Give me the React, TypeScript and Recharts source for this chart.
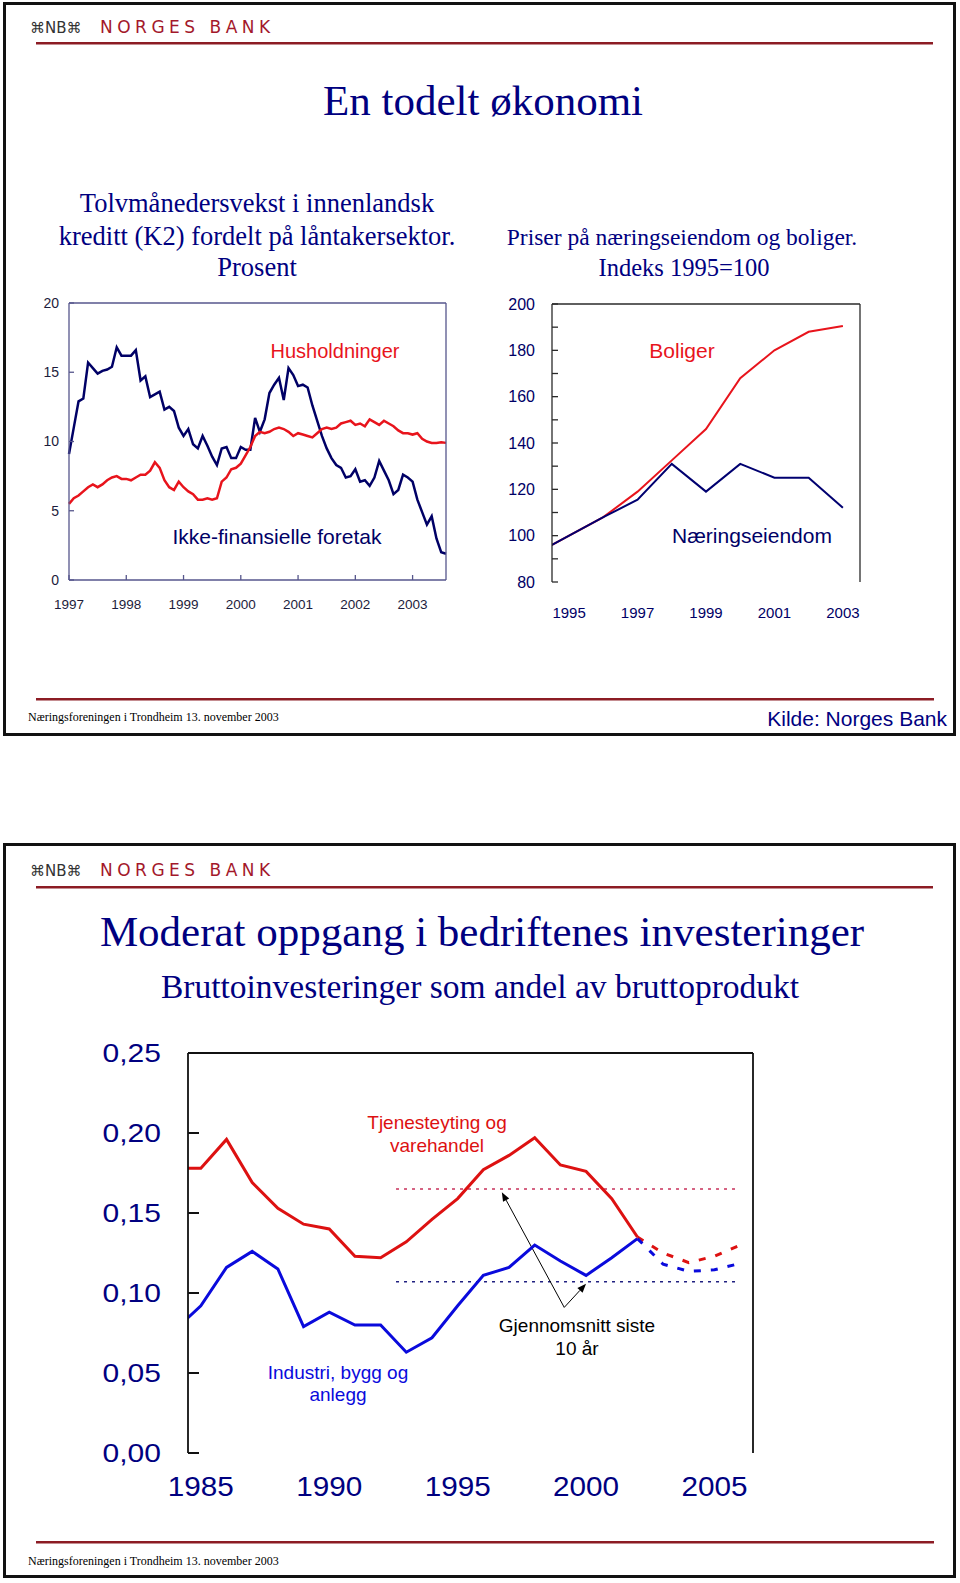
import React from "react";
import { LineChart, Line, XAxis, YAxis, ReferenceLine } from "recharts";

// --- Slide 1, left: tolvmånedersvekst i kreditt (K2), månedlig jan 1997 - aug 2003
const CREDIT_YEARS = ["1997", "1998", "1999", "2000", "2001", "2002", "2003"];
const CREDIT_TICKS = [0, 12, 24, 36, 48, 60, 72];
const HOUSEHOLDS = [
  5.5, 5.9, 6.1, 6.4, 6.7, 6.9, 6.7, 6.9, 7.2, 7.4,
  7.5, 7.3, 7.3, 7.2, 7.4, 7.6, 7.6, 7.9, 8.5, 8.1,
  7.2, 6.7, 6.5, 7.1, 6.7, 6.4, 6.2, 5.8, 5.8, 5.9,
  5.8, 5.9, 7.1, 7.4, 8.0, 8.1, 8.4, 9.0, 9.6, 10.4,
  10.7, 10.6, 10.7, 10.9, 11.0, 10.9, 10.7, 10.4, 10.6, 10.5,
  10.4, 10.3, 10.6, 10.9, 11.0, 10.9, 11.0, 11.3, 11.4, 11.5,
  11.2, 11.3, 11.1, 11.6, 11.4, 11.2, 11.5, 11.3, 11.1, 10.8,
  10.6, 10.6, 10.5, 10.6, 10.2, 10.0, 9.9, 9.9, 9.95, 9.9,
];
const FIRMS = [
  9.1, 11.0, 12.9, 13.1, 15.7, 15.3, 14.9, 15.1, 15.2, 15.4,
  16.8, 16.2, 16.2, 16.2, 16.6, 14.4, 14.7, 13.2, 13.4, 13.6,
  12.3, 12.5, 12.2, 11.0, 10.4, 10.9, 9.8, 9.5, 10.4, 9.7,
  8.9, 8.3, 9.5, 9.6, 8.8, 8.8, 9.6, 9.4, 9.4, 11.7,
  10.7, 11.6, 13.5, 14.1, 14.6, 13.0, 15.3, 14.8, 14.0, 14.1,
  13.9, 12.6, 11.5, 10.4, 9.5, 8.8, 8.3, 8.1, 7.4, 7.5,
  8.0, 7.1, 7.2, 6.8, 7.4, 8.6, 7.9, 7.2, 6.2, 6.5,
  7.6, 7.4, 7.1, 5.8, 4.9, 4.0, 4.6, 3.0, 2.0, 1.9,
];
const CREDIT_Y_TICKS = [0, 5, 10, 15, 20];

// --- Slide 1, right: priser, indeks 1995=100
const PRICE_YEARS = [1994, 1995, 1996, 1997, 1998, 1999, 2000, 2001, 2002, 2003];
const HOUSING = [92, 100, 108, 119, 132.5, 146, 168, 180, 188, 190.5];
const COMMERCIAL = [92, 100, 108, 115.5, 131, 119, 131, 125, 125, 112];
const PRICE_LABEL_YEARS = [1995, 1997, 1999, 2001, 2003];
const PRICE_TICK_YEARS = [1995.5, 1996.5, 1997.5, 1998.5, 1999.5, 2000.5, 2001.5, 2002.5];
const PRICE_Y_TICKS = [80, 90, 100, 110, 120, 130, 140, 150, 160, 170, 180, 190, 200];

// --- Slide 2: bruttoinvesteringer som andel av bruttoprodukt
const INV_YEARS = [
  1984, 1985, 1986, 1987, 1988, 1989, 1990, 1991, 1992, 1993, 1994, 1995,
  1996, 1997, 1998, 1999, 2000, 2001, 2002, 2003, 2004, 2005, 2006,
];
const SERVICE = [
  0.178, 0.178, 0.196, 0.169, 0.153, 0.143, 0.14, 0.123, 0.122, 0.132, 0.146, 0.159,
  0.177, 0.186, 0.197, 0.18, 0.176, 0.159, 0.135, null, null, null, null,
];
const INDUSTRY = [
  0.077, 0.092, 0.116, 0.126, 0.115, 0.079, 0.088, 0.08, 0.08, 0.063, 0.072, 0.092,
  0.111, 0.116, 0.13, 0.12, 0.111, 0.122, 0.134, null, null, null, null,
];
const SERVICE_FORECAST = [
  null, null, null, null, null, null, null, null, null, null, null, null,
  null, null, null, null, null, null, 0.135, 0.125, 0.119, 0.123, 0.13,
];
const INDUSTRY_FORECAST = [
  null, null, null, null, null, null, null, null, null, null, null, null,
  null, null, null, null, null, null, 0.134, 0.118, 0.1135, 0.1145, 0.1185,
];
const AVG_SERVICE = 0.165;
const AVG_INDUSTRY = 0.107;
const AVG_SPAN = [1992.6, 2005.9];
const ARROW_FROM = { x: 1999.15, y: 0.091 };
const ARROW_TO_SERVICE = { x: 1996.72, y: 0.163 };
const ARROW_TO_INDUSTRY = { x: 2000.0, y: 0.1058 };
const INV_Y_TICKS = [0, 0.05, 0.1, 0.15, 0.2, 0.25];
const INV_LABEL_YEARS = [1985, 1990, 1995, 2000, 2005];
const INV_MINOR_TICKS = [
  1985.5, 1986.5, 1987.5, 1988.5, 1989.5, 1990.5, 1991.5, 1992.5, 1993.5, 1994.5, 1995.5,
  1996.5, 1997.5, 1998.5, 1999.5, 2000.5, 2001.5, 2002.5, 2003.5, 2004.5, 2005.5,
];
const INV_MAJOR_TICKS = [1989.5, 1994.5, 1999.5, 2004.5];

const creditData = HOUSEHOLDS.map((hh, i) => ({ m: i, hh, firms: FIRMS[i] }));
const priceData = PRICE_YEARS.map((year, i) => ({ year, housing: HOUSING[i], commercial: COMMERCIAL[i] }));
const invData = INV_YEARS.map((year, i) => ({
  year,
  service: SERVICE[i],
  industry: INDUSTRY[i],
  serviceF: SERVICE_FORECAST[i],
  industryF: INDUSTRY_FORECAST[i],
}));

const SANS = "'Liberation Sans', Arial, sans-serif";
const SERIF = "'Liberation Serif', 'Times New Roman', serif";
const NAVY = "#000080";
const RED_RULE = "#8c1c24";

// tick mark drawn inward from the axis line, label outside it
type TickOpts = {
  side: "left" | "right" | "bottom";
  len: number;
  margin: number;
  stroke: string;
  fmt?: (v: number) => string;
  color?: string;
  size?: number;
  sx?: number;
  sw?: number;
};
const makeTick = (o: TickOpts) => (p: any) => {
  const { x, y, payload } = p;
  const label = o.fmt ? o.fmt(payload.value) : "";
  const sw = o.sw ?? 1.3;
  const txt = (anchor: string, dy: string) =>
    label ? (
      <text
        transform={`translate(${x},${y}) scale(${o.sx ?? 1},1)`}
        textAnchor={anchor}
        dy={dy}
        fill={o.color}
        fontSize={o.size}
        fontFamily={SANS}
      >
        {label}
      </text>
    ) : null;
  if (o.side === "left") {
    const ax = x + o.margin;
    return (
      <g>
        {o.len > 0 && <path d={`M${ax},${y}H${ax + o.len}`} stroke={o.stroke} strokeWidth={sw} fill="none" />}
        {txt("end", "0.355em")}
      </g>
    );
  }
  if (o.side === "right") {
    const ax = x - o.margin;
    return (
      <g>
        {o.len > 0 && <path d={`M${ax - o.len},${y}H${ax}`} stroke={o.stroke} strokeWidth={sw} fill="none" />}
        {txt("start", "0.355em")}
      </g>
    );
  }
  const ay = y - o.margin;
  return (
    <g>
      {o.len > 0 && <path d={`M${x},${ay}V${ay - o.len}`} stroke={o.stroke} strokeWidth={sw} fill="none" />}
      {txt("middle", "0.71em")}
    </g>
  );
};

const Arrow = (p: any) => {
  const { x1, y1, x2, y2 } = p;
  const a = Math.atan2(y2 - y1, x2 - x1);
  const L = 9;
  const W = 3.5;
  const bx = x2 - L * Math.cos(a);
  const by = y2 - L * Math.sin(a);
  const pts = `${x2},${y2} ${bx - W * Math.sin(a)},${by + W * Math.cos(a)} ${bx + W * Math.sin(a)},${by - W * Math.cos(a)}`;
  return (
    <g>
      <line x1={x1} y1={y1} x2={bx} y2={by} stroke="#000" strokeWidth={1} />
      <polygon points={pts} fill="#000" />
    </g>
  );
};

function CreditChart() {
  const frame = "#56568c";
  const lab = "#1c1c3c";
  return (
    <div style={{ position: "absolute", left: 0, top: 290 }}>
      <LineChart width={500} height={340} data={creditData} margin={{ top: 13, right: 4, bottom: 20, left: 19 }}>
        <XAxis
          dataKey="m"
          type="number"
          domain={[0, 79]}
          ticks={CREDIT_TICKS}
          interval={0}
          tickLine={false}
          tickSize={0}
          tickMargin={19}
          height={30}
          axisLine={{ stroke: frame, strokeWidth: 1.3 }}
          tick={makeTick({ side: "bottom", len: 5, margin: 19, stroke: frame, fmt: (v) => CREDIT_YEARS[v / 12], color: lab, size: 13.5 })}
        />
        <YAxis
          yAxisId="l"
          domain={[0, 20]}
          ticks={CREDIT_Y_TICKS}
          interval={0}
          width={50}
          tickLine={false}
          tickSize={0}
          tickMargin={10}
          axisLine={{ stroke: frame, strokeWidth: 1.3 }}
          tick={makeTick({ side: "left", len: 5, margin: 10, stroke: frame, fmt: String, color: lab, size: 14 })}
        />
        <YAxis
          yAxisId="r"
          orientation="right"
          domain={[0, 20]}
          ticks={CREDIT_Y_TICKS}
          interval={0}
          width={50}
          tickLine={false}
          tickSize={0}
          tickMargin={11}
          axisLine={{ stroke: frame, strokeWidth: 1.3 }}
          tick={makeTick({ side: "right", len: 5, margin: 11, stroke: frame, fmt: String, color: lab, size: 14 })}
        />
        <ReferenceLine yAxisId="l" y={20} stroke={frame} strokeWidth={1.3} />
        <Line yAxisId="l" dataKey="firms" stroke="#000066" strokeWidth={2.5} dot={false} isAnimationActive={false} />
        <Line yAxisId="l" dataKey="hh" stroke="#e8141c" strokeWidth={2.5} dot={false} isAnimationActive={false} />
      </LineChart>
    </div>
  );
}

function PriceChart() {
  const frame = "#2a2a2a";
  const lab = "#000066";
  const yFmt = (v: number) => (v % 20 === 0 ? String(v) : "");
  return (
    <div style={{ position: "absolute", left: 480, top: 290 }}>
      <LineChart width={480} height={340} data={priceData} margin={{ top: 14, right: 50, bottom: 18, left: 22 }}>
        <XAxis
          xAxisId="t"
          dataKey="year"
          type="number"
          domain={[1994.5, 2003.5]}
          allowDataOverflow
          ticks={PRICE_TICK_YEARS}
          interval={0}
          tickLine={false}
          tickSize={0}
          tickMargin={0}
          height={0}
          axisLine={{ stroke: frame, strokeWidth: 1.3 }}
          tick={makeTick({ side: "bottom", len: 6, margin: 0, stroke: frame })}
        />
        <XAxis
          xAxisId="lab"
          dataKey="year"
          type="number"
          domain={[1994.5, 2003.5]}
          allowDataOverflow
          ticks={PRICE_LABEL_YEARS}
          interval={0}
          tickLine={false}
          axisLine={false}
          tickSize={0}
          tickMargin={25}
          height={30}
          tick={makeTick({ side: "bottom", len: 0, margin: 25, stroke: frame, fmt: String, color: lab, size: 15 })}
        />
        <YAxis
          yAxisId="l"
          domain={[80, 200]}
          ticks={PRICE_Y_TICKS}
          interval={0}
          width={50}
          tickLine={false}
          tickSize={0}
          tickMargin={17}
          axisLine={{ stroke: frame, strokeWidth: 1.3 }}
          tick={makeTick({ side: "left", len: 6, margin: 17, stroke: frame, fmt: yFmt, color: lab, size: 16 })}
        />
        <YAxis
          yAxisId="r"
          orientation="right"
          domain={[80, 200]}
          ticks={PRICE_Y_TICKS}
          interval={0}
          width={50}
          tickLine={false}
          tickSize={0}
          tickMargin={16}
          axisLine={{ stroke: frame, strokeWidth: 1.3 }}
          tick={makeTick({ side: "right", len: 6, margin: 16, stroke: frame, fmt: yFmt, color: lab, size: 16 })}
        />
        <ReferenceLine xAxisId="lab" yAxisId="l" y={200} stroke={frame} strokeWidth={1.3} />
        <Line xAxisId="lab" yAxisId="l" dataKey="housing" stroke="#e8141c" strokeWidth={2} dot={false} isAnimationActive={false} />
        <Line xAxisId="lab" yAxisId="l" dataKey="commercial" stroke="#000070" strokeWidth={2} dot={false} isAnimationActive={false} />
      </LineChart>
    </div>
  );
}

function InvestmentChart() {
  const frame = "#111";
  const yFmt = (v: number) => v.toFixed(2).replace(".", ",");
  const dom: [number, number] = [1984.5, 2006.5];
  return (
    <div style={{ position: "absolute", left: 0, top: 1030 }}>
      <LineChart width={960} height={500} data={invData} margin={{ top: 23, right: 127, bottom: 37, left: 108 }}>
        <XAxis
          xAxisId="minor"
          dataKey="year"
          type="number"
          domain={dom}
          allowDataOverflow
          ticks={INV_MINOR_TICKS}
          interval={0}
          tickLine={false}
          tickSize={0}
          tickMargin={0}
          height={0}
          axisLine={{ stroke: frame, strokeWidth: 1.8 }}
          tick={makeTick({ side: "bottom", len: 7, margin: 0, stroke: frame, sw: 1.6 })}
        />
        <XAxis
          xAxisId="major"
          dataKey="year"
          type="number"
          domain={dom}
          allowDataOverflow
          ticks={INV_MAJOR_TICKS}
          interval={0}
          tickLine={false}
          tickSize={0}
          tickMargin={0}
          height={0}
          axisLine={false}
          tick={makeTick({ side: "bottom", len: 11, margin: 0, stroke: frame, sw: 1.6 })}
        />
        <XAxis
          xAxisId="lab"
          dataKey="year"
          type="number"
          domain={dom}
          allowDataOverflow
          ticks={INV_LABEL_YEARS}
          interval={0}
          tickLine={false}
          axisLine={false}
          tickSize={0}
          tickMargin={24}
          height={40}
          tick={makeTick({ side: "bottom", len: 0, margin: 24, stroke: frame, fmt: String, color: NAVY, size: 27, sx: 1.1 })}
        />
        <YAxis
          yAxisId="l"
          domain={[0, 0.25]}
          ticks={INV_Y_TICKS}
          interval={0}
          width={80}
          tickLine={false}
          tickSize={0}
          tickMargin={27}
          axisLine={{ stroke: frame, strokeWidth: 1.8 }}
          tick={makeTick({ side: "left", len: 11, margin: 27, stroke: frame, fmt: yFmt, color: NAVY, size: 25, sx: 1.2, sw: 2 })}
        />
        <YAxis
          yAxisId="r"
          orientation="right"
          domain={[0, 0.25]}
          ticks={INV_Y_TICKS}
          interval={0}
          width={80}
          tickLine={false}
          tickSize={0}
          tickMargin={24}
          axisLine={{ stroke: frame, strokeWidth: 1.8 }}
          tick={makeTick({ side: "right", len: 11, margin: 24, stroke: frame, fmt: yFmt, color: NAVY, size: 25, sx: 1.2, sw: 2 })}
        />
        <ReferenceLine xAxisId="lab" yAxisId="l" y={0.25} stroke={frame} strokeWidth={1.8} />
        <ReferenceLine
          xAxisId="lab"
          yAxisId="l"
          segment={[{ x: AVG_SPAN[0], y: AVG_SERVICE }, { x: AVG_SPAN[1], y: AVG_SERVICE }]}
          stroke="#c8305a"
          strokeWidth={1.5}
          strokeDasharray="3 5"
        />
        <ReferenceLine
          xAxisId="lab"
          yAxisId="l"
          segment={[{ x: AVG_SPAN[0], y: AVG_INDUSTRY }, { x: AVG_SPAN[1], y: AVG_INDUSTRY }]}
          stroke="#202080"
          strokeWidth={1.5}
          strokeDasharray="3 5"
        />
        <ReferenceLine xAxisId="lab" yAxisId="l" segment={[ARROW_FROM, ARROW_TO_SERVICE]} shape={Arrow} />
        <ReferenceLine xAxisId="lab" yAxisId="l" segment={[ARROW_FROM, ARROW_TO_INDUSTRY]} shape={Arrow} />
        <Line xAxisId="lab" yAxisId="l" dataKey="service" stroke="#dd1111" strokeWidth={3} dot={false} isAnimationActive={false} />
        <Line xAxisId="lab" yAxisId="l" dataKey="industry" stroke="#0a0adc" strokeWidth={3} dot={false} isAnimationActive={false} />
        <Line xAxisId="lab" yAxisId="l" dataKey="serviceF" stroke="#dd1111" strokeWidth={3} strokeDasharray="7 10" dot={false} isAnimationActive={false} />
        <Line xAxisId="lab" yAxisId="l" dataKey="industryF" stroke="#0a0adc" strokeWidth={3} strokeDasharray="7 10" dot={false} isAnimationActive={false} />
      </LineChart>
    </div>
  );
}

function Header({ y, gap }: { y: number; gap: number }) {
  return (
    <g>
      <text x={30} y={y} fontFamily="'DejaVu Sans', sans-serif" fontSize={15} fill="#333">⌘NB⌘</text>
      <text x={100} y={y} fontFamily="'DejaVu Sans', sans-serif" fontSize={17} letterSpacing={4.5} fill="#a3182b">NORGES BANK</text>
      <rect x={36} y={y + gap - 1} width={897} height={2.5} fill={RED_RULE} />
    </g>
  );
}

export default function App() {
  return (
    <div style={{ position: "absolute", left: 0, top: 0, width: 960, height: 1583, background: "#fff", fontFamily: SANS }}>
      <svg width={960} height={1583} style={{ position: "absolute", left: 0, top: 0 }}>
        <rect x={4.5} y={3.5} width={950} height={731} fill="none" stroke="#111" strokeWidth={3} />
        <rect x={4.5} y={844.5} width={950} height={732} fill="none" stroke="#111" strokeWidth={3} />

        <Header y={33} gap={10} />
        <text x={483} y={115} textAnchor="middle" fontFamily={SERIF} fontSize={43} fill={NAVY}>En todelt økonomi</text>
        <g fontFamily={SERIF} fontSize={26.5} fill={NAVY} textAnchor="middle">
          <text x={257} y={212}>Tolvmånedersvekst i innenlandsk</text>
          <text x={257} y={245}>kreditt (K2) fordelt på låntakersektor.</text>
          <text x={257} y={276}>Prosent</text>
        </g>
        <g fontFamily={SERIF} fill={NAVY} textAnchor="middle">
          <text x={682} y={245} fontSize={23.5}>Priser på næringseiendom og boliger.</text>
          <text x={684} y={276} fontSize={24.5}>Indeks 1995=100</text>
        </g>
        <g fontFamily={SANS} textAnchor="middle">
          <text x={335} y={358} fontSize={20} fill="#e8141c">Husholdninger</text>
          <text x={277} y={544} fontSize={21} fill="#000066">Ikke-finansielle foretak</text>
          <text x={682} y={358} fontSize={21} fill="#e8141c">Boliger</text>
          <text x={752} y={543} fontSize={21} fill="#000066">Næringseiendom</text>
        </g>
        <rect x={36} y={698} width={898} height={2.5} fill={RED_RULE} />
        <text x={28} y={721} fontFamily={SERIF} fontSize={12} fill="#000">Næringsforeningen i Trondheim 13. november 2003</text>
        <text x={947} y={726} textAnchor="end" fontFamily={SANS} fontSize={21} fill={NAVY}>Kilde: Norges Bank</text>

        <Header y={876} gap={11} />
        <text x={482} y={946} textAnchor="middle" fontFamily={SERIF} fontSize={43} fill={NAVY}>Moderat oppgang i bedriftenes investeringer</text>
        <text x={480} y={998} textAnchor="middle" fontFamily={SERIF} fontSize={33.5} fill={NAVY}>Bruttoinvesteringer som andel av bruttoprodukt</text>
        <g fontFamily={SANS} textAnchor="middle" fontSize={19}>
          <text x={437} y={1129} fill="#dd1111">Tjenesteyting og</text>
          <text x={437} y={1152} fill="#dd1111">varehandel</text>
          <text x={338} y={1379} fill="#0a0adc">Industri, bygg og</text>
          <text x={338} y={1401} fill="#0a0adc">anlegg</text>
          <text x={577} y={1332} fill="#000">Gjennomsnitt siste</text>
          <text x={577} y={1355} fill="#000">10 år</text>
        </g>
        <rect x={36} y={1541} width={898} height={2.5} fill={RED_RULE} />
        <text x={28} y={1565} fontFamily={SERIF} fontSize={12} fill="#000">Næringsforeningen i Trondheim 13. november 2003</text>
      </svg>
      <CreditChart />
      <PriceChart />
      <InvestmentChart />
    </div>
  );
}
